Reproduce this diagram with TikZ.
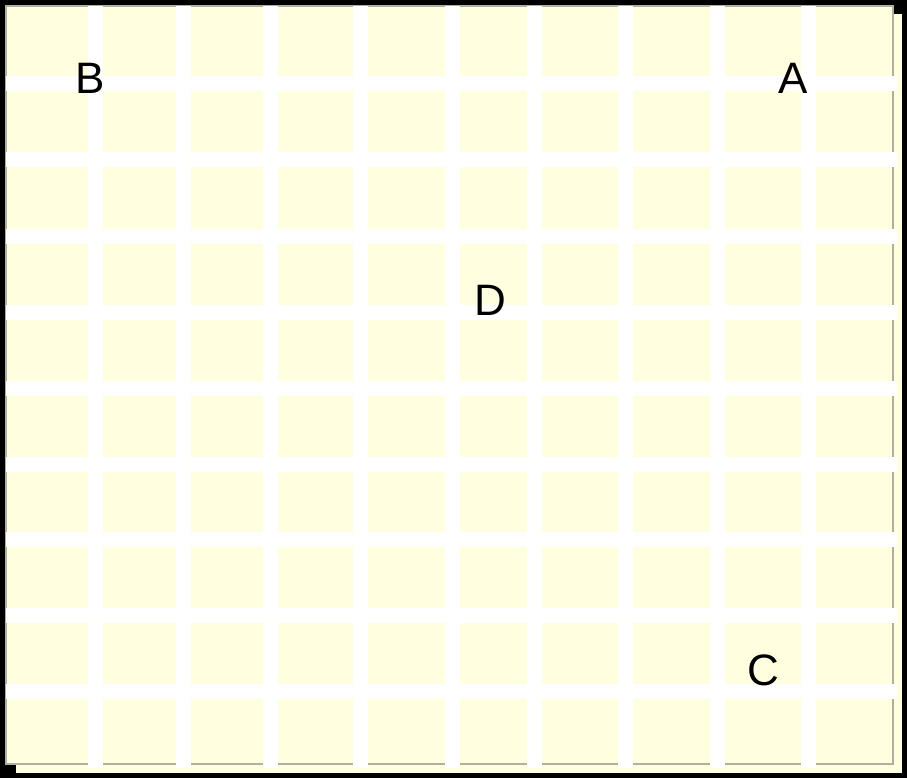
\documentclass[tikz,border=0pt]{standalone}
\usepackage{fontspec}
\setmainfont{Liberation Sans}
\definecolor{paper}{RGB}{255,255,224}
\definecolor{edge}{RGB}{176,176,160}
\tikzset{
  gridline/.style={draw=white,line width=15pt},
  lbl/.style={font=\fontsize{44}{44}\selectfont,text=black,inner sep=0pt}
}
\begin{document}
\begin{tikzpicture}[x=1pt,y=-1pt]
\useasboundingbox (0,0) rectangle (907,778);
\fill[black] (0,0) rectangle (907,778);
\fill[paper] (16,14) rectangle (902,773);
\filldraw[fill=paper,draw=edge,line width=1.5pt] (6,6) rectangle (893,764);
\foreach \x in {95,183,270,360.5,452.5,534.5,625.5,717.5,808.5}
  \draw[gridline] (\x,6) -- (\x,768);
\foreach \y in {83.5,160,236,312,388,464,539,615,691}
  \draw[gridline] (6,\y) -- (897,\y);
\node[lbl] (B) at (90,78) {B};
\node[lbl] (A) at (793,78) {A};
\node[lbl] (D) at (490,300) {D};
\node[lbl] (C) at (763,670) {C};
\end{tikzpicture}
\end{document}
